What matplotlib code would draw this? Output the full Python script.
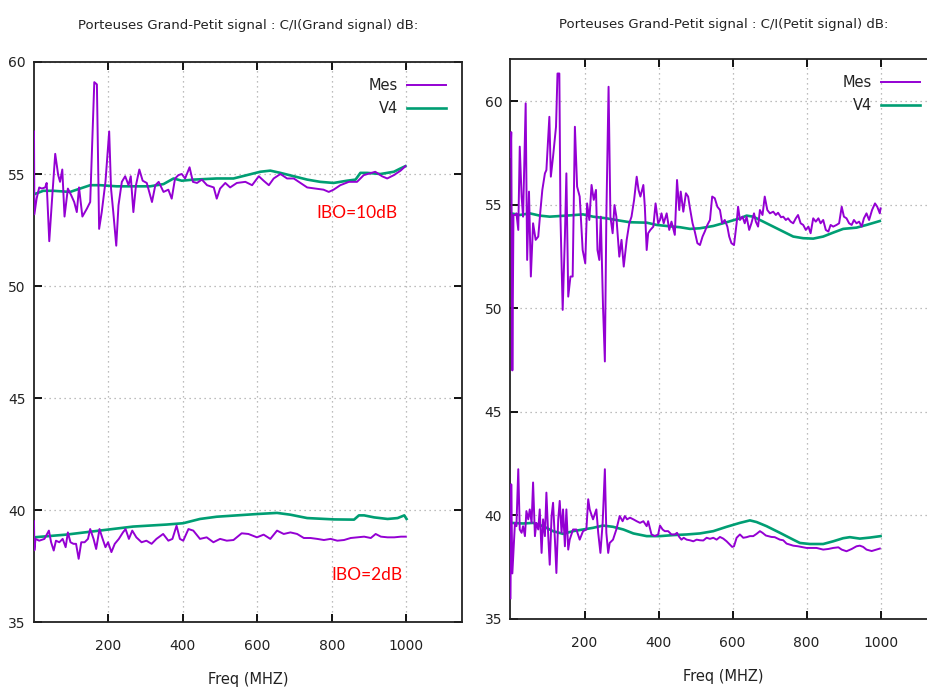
import matplotlib
matplotlib.use("Agg")
import matplotlib.pyplot as plt

# ---------------- data ----------------
titles = ["Porteuses Grand-Petit signal : C/I(Grand signal) dB:",
          "Porteuses Grand-Petit signal : C/I(Petit signal) dB:"]
xlabel = "Freq (MHZ)"
xticks = [200, 400, 600, 800, 1000]
yticks = [35, 40, 45, 50, 55, 60]
series_names = ["Mes", "V4"]

# Left panel, IBO=10dB
l_hi_mes_f = [0, 1, 7, 14, 21, 30, 34, 41, 48, 57, 65, 70, 76, 82, 91, 100, 108, 115, 121, 130,
              142, 151, 162, 169, 175, 182, 192, 202, 207, 213, 221, 227, 236, 245, 254, 260, 267,
              274, 283, 292, 303, 317, 326, 335, 348, 361, 370, 379, 388, 397, 406, 418, 427, 438,
              451, 465, 483, 491, 500, 514, 527, 545, 568, 586, 604, 617, 631, 644, 662, 680, 698,
              716, 734, 756, 778, 792, 805, 823, 846, 868, 886, 917, 935, 949, 967, 985, 998]
l_hi_mes_v = [56.9, 53.2, 53.9, 54.4, 54.35, 54.4, 54.6, 52.0, 53.75, 55.9, 54.95, 54.65, 55.2, 53.1,
              54.35, 54.05, 53.75, 53.3, 54.4, 53.1, 53.45, 53.75, 59.1, 59.0, 52.55, 53.3, 54.65,
              56.9, 54.35, 53.3, 51.8, 53.6, 54.65, 54.9, 54.5, 54.9, 53.3, 54.5, 55.2, 54.7, 54.6,
              53.75, 54.5, 54.65, 54.2, 54.3, 53.9, 54.8, 54.95, 55.0, 54.8, 55.3, 54.65, 54.6,
              54.75, 54.5, 54.4, 53.9, 54.35, 54.6, 54.4, 54.6, 54.65, 54.5, 54.9, 54.7, 54.5, 54.8,
              55.0, 54.8, 54.8, 54.6, 54.4, 54.35, 54.3, 54.2, 54.3, 54.5, 54.65, 54.65, 54.95,
              55.1, 54.9, 54.8, 54.95, 55.15, 55.35]
l_hi_v4_f = [1, 25, 52, 97, 124, 151, 178, 222, 267, 312, 348, 375, 397, 429, 491, 536, 572, 608,
             635, 662, 698, 734, 769, 805, 841, 864, 877, 895, 931, 967, 985, 998]
l_hi_v4_v = [54.1, 54.25, 54.25, 54.2, 54.35, 54.5, 54.5, 54.45, 54.45, 54.45, 54.55, 54.8, 54.7,
             54.75, 54.8, 54.8, 54.95, 55.1, 55.15, 55.05, 54.9, 54.75, 54.65, 54.6, 54.7, 54.75,
             55.05, 55.05, 55.0, 55.1, 55.25, 55.35]

# Left panel, IBO=2dB
l_lo_mes_f = [0, 1, 4, 14, 28, 40, 46, 53, 59, 68, 77, 85, 91, 98, 106, 113, 120, 127, 136, 145,
              151, 160, 167, 176, 183, 192, 199, 208, 217, 228, 239, 246, 255, 264, 275, 289, 302,
              316, 329, 347, 361, 372, 383, 392, 401, 415, 428, 446, 464, 482, 500, 518, 536, 558,
              576, 599, 617, 635, 653, 671, 689, 707, 725, 743, 761, 779, 797, 815, 833, 851, 869,
              887, 905, 918, 932, 950, 968, 986, 999]
l_lo_mes_v = [39.5, 38.2, 38.71, 38.63, 38.71, 39.08, 38.56, 38.19, 38.63, 38.56, 38.71, 38.34, 39.0,
              38.56, 38.49, 38.49, 37.82, 38.56, 38.56, 38.71, 39.15, 38.71, 38.26, 39.15, 38.78,
              38.34, 38.56, 38.12, 38.49, 38.71, 39.0, 39.15, 38.71, 39.08, 38.78, 38.56, 38.63,
              38.49, 38.71, 38.93, 38.63, 38.71, 39.3, 38.71, 38.63, 39.15, 39.08, 38.71, 38.78,
              38.56, 38.71, 38.63, 38.66, 38.96, 38.93, 38.78, 38.9, 38.71, 39.08, 38.93, 39.0,
              38.93, 38.75, 38.75, 38.71, 38.66, 38.71, 38.63, 38.66, 38.75, 38.78, 38.81, 38.75,
              38.93, 38.81, 38.78, 38.78, 38.81, 38.81]
l_lo_v4_f = [0, 86, 176, 266, 356, 401, 446, 491, 536, 599, 653, 689, 734, 806, 860, 873, 887, 914,
             950, 977, 995, 1001]
l_lo_v4_v = [38.78, 38.9, 39.08, 39.26, 39.35, 39.41, 39.6, 39.7, 39.75, 39.82, 39.87, 39.79, 39.64,
             39.58, 39.57, 39.76, 39.76, 39.67, 39.6, 39.64, 39.76, 39.6]

# Right panel, IBO=10dB
r_hi_mes_f = [0, 2, 5, 8, 12, 16, 21, 25, 30, 34, 41, 45, 50, 55, 61, 68, 75, 81, 86, 93, 97, 105,
              109, 115, 123, 127, 132, 135, 141, 147, 151, 156, 162, 168, 174, 180, 187, 195, 202,
              207, 213, 219, 225, 231, 235, 240, 244, 250, 255, 259, 265, 270, 276, 281, 286, 294,
              300, 306, 314, 321, 327, 334, 341, 346, 351, 359, 363, 368, 372, 378, 386, 392, 399,
              404, 408, 414, 422, 429, 435, 444, 450, 456, 460, 467, 474, 480, 485, 492, 498, 505,
              512, 519, 525, 532, 539, 545, 552, 559, 566, 572, 579, 586, 591, 597, 604, 611, 615,
              620, 627, 633, 638, 645, 651, 658, 663, 669, 674, 681, 687, 694, 701, 710, 717, 723,
              731, 737, 744, 750, 757, 764, 771, 777, 784, 791, 798, 805, 811, 818, 825, 832, 838,
              845, 852, 859, 865, 872, 881, 888, 895, 901, 908, 915, 922, 928, 935, 942, 949, 955,
              962, 969, 977, 985, 991, 998, 1000]
r_hi_mes_v = [57.3, 58.5, 47.0, 54.5, 54.5, 54.58, 53.78, 57.8, 55.39, 54.42, 59.89, 52.33, 55.63,
              51.53, 54.1, 53.3, 53.46, 54.74, 55.71, 56.51, 56.67, 59.24, 56.35, 57.32, 58.76,
              61.33, 61.33, 54.42, 49.92, 53.46, 56.51, 50.56, 51.53, 51.53, 58.76, 55.87, 55.39,
              52.81, 52.17, 55.06, 54.26, 55.95, 55.23, 55.71, 52.81, 52.33, 54.42, 50.08, 47.43,
              54.42, 60.69, 54.42, 53.62, 54.98, 54.42, 52.49, 53.3, 52.01, 53.3, 54.1, 54.42,
              55.23, 56.35, 55.71, 55.39, 55.95, 54.9, 52.81, 53.62, 53.78, 53.94, 55.06, 54.1,
              54.26, 54.58, 54.1, 54.58, 53.78, 54.18, 53.54, 56.19, 54.74, 55.63, 54.66, 55.55,
              55.39, 54.82, 54.1, 53.7, 53.14, 53.05, 53.46, 53.7, 54.02, 54.26, 55.39, 55.31,
              54.9, 54.74, 54.1, 54.26, 53.94, 53.46, 53.14, 53.05, 54.1, 54.9, 54.26, 54.42,
              54.1, 54.42, 53.78, 54.1, 54.58, 54.18, 53.94, 54.74, 54.5, 55.39, 54.74, 54.58,
              54.66, 54.5, 54.61, 54.39, 54.42, 54.26, 54.34, 54.18, 54.1, 54.34, 54.5, 54.1,
              54.02, 53.78, 53.94, 53.62, 54.34, 54.18, 54.34, 54.1, 54.26, 53.78, 53.7, 54.02,
              53.94, 54.02, 54.1, 54.9, 54.42, 54.34, 54.1, 54.02, 54.26, 54.1, 54.18, 53.94,
              54.34, 54.58, 54.26, 54.74, 55.06, 54.9, 54.58, 54.82]
r_hi_v4_f = [1, 25, 52, 79, 106, 151, 196, 223, 259, 295, 323, 368, 395, 422, 458, 485, 512, 548,
             584, 620, 638, 656, 683, 710, 737, 764, 791, 818, 845, 872, 899, 935, 962, 998]
r_hi_v4_v = [54.58, 54.5, 54.58, 54.47, 54.42, 54.47, 54.53, 54.42, 54.34, 54.23, 54.15, 54.13,
             54.02, 53.97, 53.91, 53.83, 53.86, 53.97, 54.15, 54.34, 54.47, 54.42, 54.18, 53.94,
             53.7, 53.46, 53.38, 53.36, 53.46, 53.65, 53.83, 53.89, 54.02, 54.21]

# Right panel, IBO=2dB
r_lo_mes_f = [0, 2, 5, 12, 16, 21, 25, 30, 34, 39, 43, 48, 52, 57, 61, 66, 70, 75, 79, 84, 88, 93,
              97, 102, 106, 111, 115, 120, 124, 129, 133, 138, 142, 147, 151, 156, 160, 169, 178,
              187, 196, 205, 210, 214, 223, 232, 237, 243, 249, 255, 259, 264, 268, 277, 286, 295,
              303, 309, 315, 323, 332, 341, 350, 359, 368, 372, 381, 390, 399, 404, 411, 417, 426,
              435, 444, 450, 456, 462, 468, 476, 485, 494, 503, 512, 521, 530, 539, 548, 557, 566,
              575, 584, 593, 599, 604, 611, 620, 629, 638, 647, 656, 665, 674, 681, 690, 696, 705,
              714, 728, 737, 746, 755, 764, 777, 786, 800, 814, 827, 845, 859, 872, 886, 895, 908,
              922, 935, 944, 953, 962, 976, 989, 998]
r_lo_mes_v = [36.0, 41.5, 37.2, 39.64, 39.48, 42.23, 39.32, 39.16, 39.48, 39.0, 40.21, 39.81, 40.29,
              39.64, 41.59, 39.0, 39.64, 39.32, 40.29, 38.19, 39.81, 39.0, 41.1, 39.0, 37.62, 39.97,
              40.61, 38.83, 37.22, 39.81, 40.7, 39.16, 40.29, 38.51, 40.29, 38.35, 38.83, 39.32,
              39.32, 38.83, 39.24, 39.32, 40.78, 40.29, 39.81, 40.29, 39.16, 38.19, 39.64, 42.23,
              39.16, 38.19, 38.67, 38.83, 39.32, 39.97, 39.72, 39.97, 39.81, 39.89, 39.81, 39.72,
              39.64, 39.72, 39.48, 39.72, 39.08, 39.0, 39.08, 39.51, 39.32, 39.24, 39.24, 39.08,
              39.08, 39.16, 38.96, 38.83, 38.92, 38.83, 38.8, 38.75, 38.83, 38.8, 38.79, 38.92,
              38.87, 38.92, 38.83, 38.96, 38.88, 38.75, 38.59, 38.48, 38.51, 38.92, 39.08, 38.92,
              38.95, 39.0, 39.0, 39.11, 39.24, 39.16, 39.03, 39.0, 38.96, 38.95, 38.83, 38.8, 38.64,
              38.59, 38.54, 38.51, 38.48, 38.43, 38.43, 38.43, 38.35, 38.38, 38.43, 38.46, 38.35,
              38.27, 38.38, 38.51, 38.54, 38.48, 38.35, 38.28, 38.35, 38.4]
r_lo_v4_f = [1, 34, 61, 88, 115, 142, 169, 196, 223, 250, 277, 305, 332, 368, 404, 440, 476, 512,
             548, 584, 620, 647, 665, 692, 728, 764, 782, 809, 845, 872, 899, 917, 944, 971, 1000]
r_lo_v4_v = [39.64, 39.61, 39.64, 39.48, 39.24, 39.11, 39.24, 39.32, 39.4, 39.51, 39.45, 39.32,
             39.13, 39.0, 39.0, 39.05, 39.08, 39.13, 39.24, 39.45, 39.64, 39.76, 39.68, 39.48,
             39.16, 38.83, 38.67, 38.62, 38.62, 38.75, 38.9, 38.95, 38.88, 38.93, 39.0]

ibo_labels = ["IBO=10dB", "IBO=2dB"]
ibo_pos = [(760, 53.25), (800, 37.1)]

# ---------------- style ----------------
MES_C = "#9400d3"
V4_C = "#009e73"
W, H = 928, 694
fig = plt.figure(figsize=(W / 100, H / 100), dpi=100)
fig.patch.set_facecolor("white")

axL = fig.add_axes([34 / W, (H - 622) / H, 428 / W, 560 / H])
# right panel extends past the image edge (cropped in the reference)
axR = fig.add_axes([510.5 / W, (H - 619) / H, 440 / W, 560 / H])

panels = [
    (axL, l_hi_mes_f, l_hi_mes_v, l_hi_v4_f, l_hi_v4_v, l_lo_mes_f, l_lo_mes_v, l_lo_v4_f, l_lo_v4_v,
     (35, 60), 1150, 24, (1.0, 1.0)),
    (axR, r_hi_mes_f, r_hi_mes_v, r_hi_v4_f, r_hi_v4_v, r_lo_mes_f, r_lo_mes_v, r_lo_v4_f, r_lo_v4_v,
     (35, 62.03), 1189, 22, (426 / 440, 1.0)),
]

for i, (ax, hmf, hmv, hvf, hvv, lmf, lmv, lvf, lvv, ylim, xmax, tpad, anchor) in enumerate(panels):
    ax.plot(hmf, hmv, color=MES_C, lw=1.4, label=series_names[0], zorder=3)
    ax.plot(hvf, hvv, color=V4_C, lw=1.9, label=series_names[1], zorder=2)
    ax.plot(lmf, lmv, color=MES_C, lw=1.4, zorder=3)
    ax.plot(lvf, lvv, color=V4_C, lw=1.9, zorder=2)
    ax.set_xlim(0, xmax)
    ax.set_ylim(*ylim)
    ax.set_xticks(xticks)
    ax.set_yticks(yticks)
    ax.tick_params(direction="in", length=6, width=1.3, top=True, right=True,
                   labelsize=10, colors="black", labelcolor="#222222")
    ax.tick_params(axis="x", pad=12)
    ax.tick_params(axis="y", pad=6)
    ax.grid(True, color="#a8a8a8", linestyle=(0, (1, 3)), linewidth=0.9)
    for s in ax.spines.values():
        s.set_linewidth(1.3)
        s.set_color("#222222")
    ax.set_title(titles[i], fontsize=9.5, pad=tpad, color="#222222",
                 x=0.5 if i == 0 else (426 / 440) / 2)
    ax.set_xlabel(xlabel, fontsize=10.5, labelpad=14, color="#222222",
                  x=0.5 if i == 0 else (426 / 440) / 2)
    leg = ax.legend(loc="upper right", frameon=False, markerfirst=False, fontsize=10.5,
                    handlelength=2.7, handletextpad=0.6, labelspacing=0.55,
                    borderaxespad=0.7, bbox_to_anchor=anchor)
    for t in leg.get_texts():
        t.set_color("#222222")
    if i == 0:
        for lab, (xx, yy) in zip(ibo_labels, ibo_pos):
            ax.text(xx, yy, lab, color="red", fontsize=12.5, family=["Lato", "DejaVu Sans"],
                    ha="left", va="center")

fig.savefig("out.png", dpi=100)
